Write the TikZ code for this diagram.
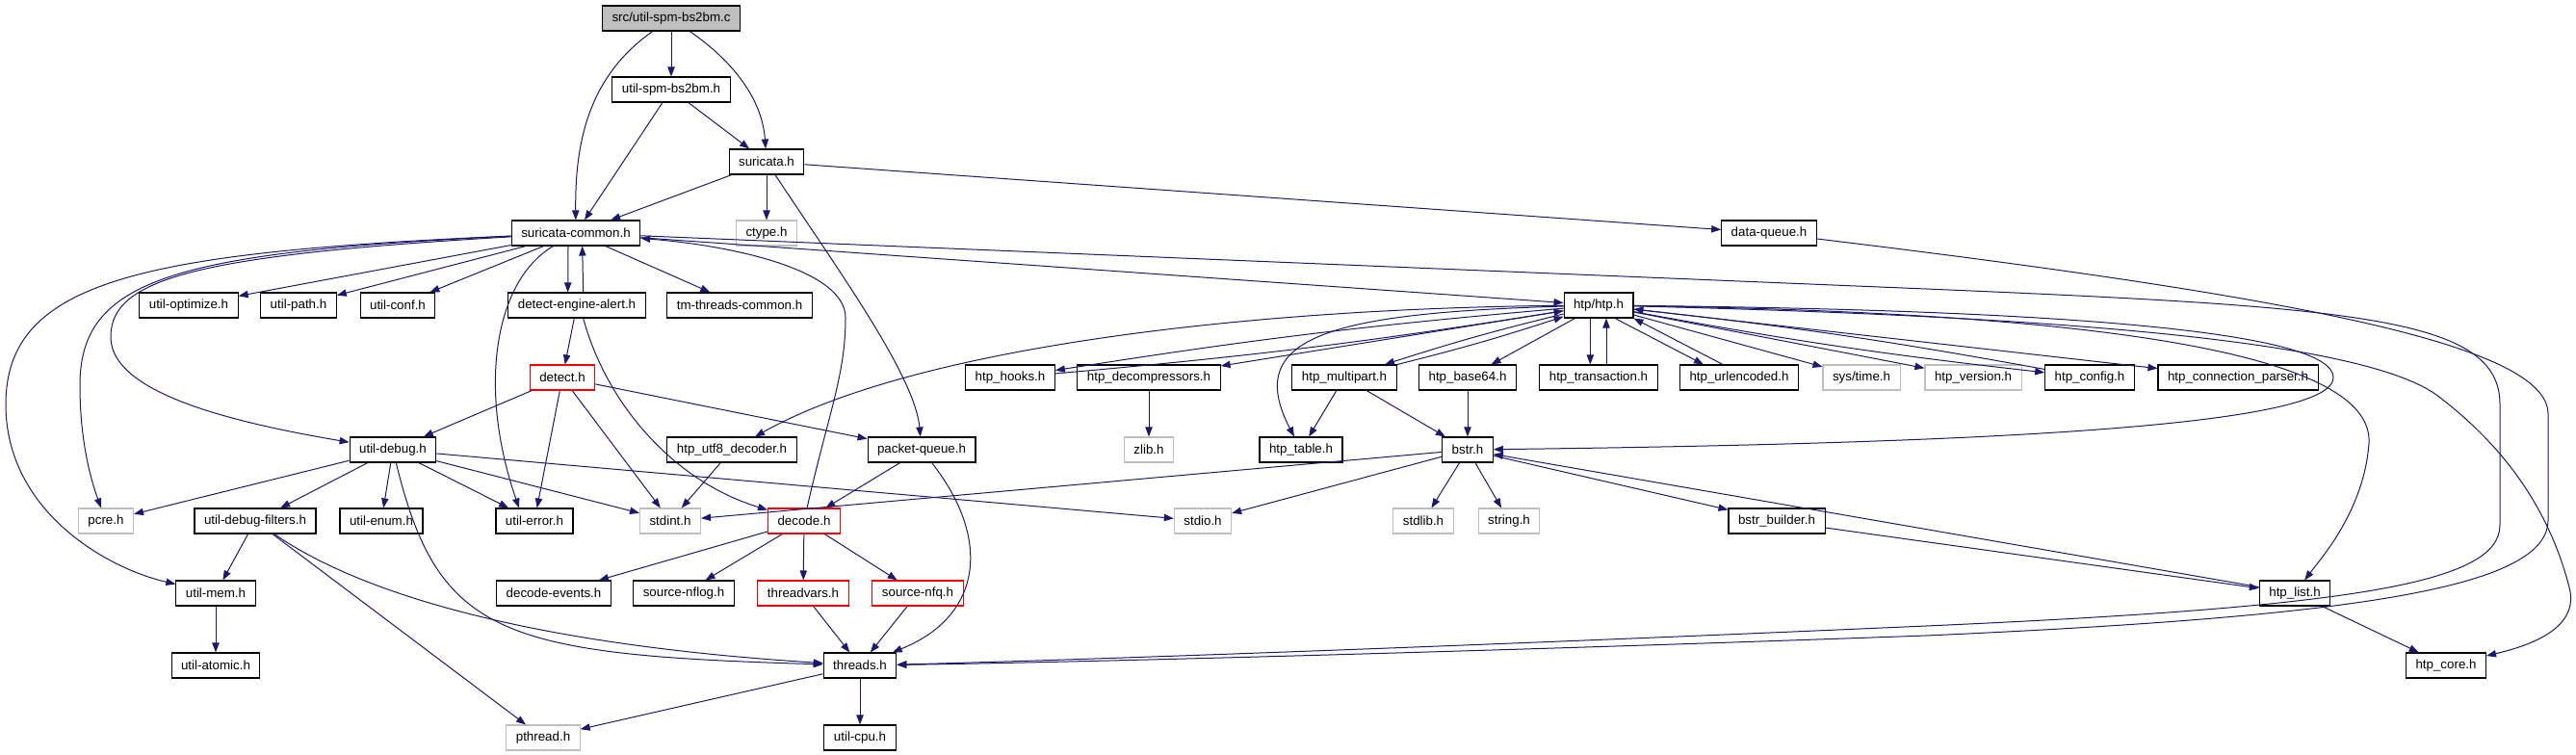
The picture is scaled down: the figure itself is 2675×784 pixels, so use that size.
\documentclass[tikz,border=0pt]{standalone}
\usepackage{fontspec}
\setsansfont{Liberation Sans}
\usepackage{tikz}
\usetikzlibrary{arrows.meta}
\definecolor{depcol}{HTML}{191970}
\definecolor{syscol}{HTML}{BFBFBF}
\tikzset{
  hdr/.style={draw=black, line width=0.8pt, fill=white, text=black,
    minimum height=19.5pt, inner xsep=7.5pt, inner ysep=0pt},
  syshdr/.style={hdr, draw=syscol},
  redhdr/.style={hdr, draw=red},
  roothdr/.style={hdr, fill=syscol},
  dep/.style={-{Triangle[length=7.5pt,width=5.5pt]}, draw=depcol, line width=0.75pt}}

\begin{document}
\begin{tikzpicture}[x=0.75pt, y=-0.75pt, font=\sffamily\fontsize{10pt}{12pt}\selectfont]
    \useasboundingbox (0,0) rectangle (2675,784);
    \node[roothdr] (root) at (697,19) {src/util-spm-bs2bm.c};
    \node[hdr] (spmh)   at (697,93)  {util-spm-bs2bm.h};
    \node[hdr] (suri)   at (796,168) {suricata.h};
    \node[hdr] (scom)   at (598,242) {suricata-common.h};
    \node[syshdr] (ctype) at (796,242) {ctype.h};
    \node[hdr] (dataq)  at (1837,242) {data-queue.h};
    \node[hdr] (uopt)   at (196,317) {util-optimize.h};
    \node[hdr] (upath)  at (310,317) {util-path.h};
    \node[hdr] (uconf)  at (413,317) {util-conf.h};
    \node[hdr] (dea)    at (599,317) {detect-engine-alert.h};
    \node[hdr] (tmtc)   at (768,317) {tm-threads-common.h};
    \node[hdr] (htp)    at (1660,317) {htp/htp.h};
    \node[redhdr] (detect) at (584,392) {detect.h};
    \node[hdr] (hooks)  at (1049,392) {htp\_hooks.h};
    \node[hdr] (decomp) at (1193,392) {htp\_decompressors.h};
    \node[hdr] (mpart)  at (1396,392) {htp\_multipart.h};
    \node[hdr] (b64)    at (1524,392) {htp\_base64.h};
    \node[hdr] (trans)  at (1660,392) {htp\_transaction.h};
    \node[hdr] (urlenc) at (1806,392) {htp\_urlencoded.h};
    \node[syshdr] (systime) at (1933,392) {sys/time.h};
    \node[syshdr] (version) at (2049,392) {htp\_version.h};
    \node[hdr] (config) at (2170,392) {htp\_config.h};
    \node[hdr] (connp)  at (2324,392) {htp\_connection\_parser.h};
    \node[hdr] (udebug) at (408,467) {util-debug.h};
    \node[hdr] (utf8)   at (760,467) {htp\_utf8\_decoder.h};
    \node[hdr] (pktq)   at (957,467) {packet-queue.h};
    \node[syshdr] (zlib) at (1193,467) {zlib.h};
    \node[hdr] (table)  at (1351,467) {htp\_table.h};
    \node[hdr] (bstr)   at (1524,467) {bstr.h};
    \node[syshdr] (pcre) at (110,541) {pcre.h};
    \node[hdr] (udf)    at (265,541) {util-debug-filters.h};
    \node[hdr] (uenum)  at (396,541) {util-enum.h};
    \node[hdr] (uerr)   at (555,541) {util-error.h};
    \node[syshdr] (stdint) at (696,541) {stdint.h};
    \node[redhdr] (decode) at (835,541) {decode.h};
    \node[syshdr] (stdio)  at (1249,541) {stdio.h};
    \node[syshdr] (stdlib) at (1478,541) {stdlib.h};
    \node[syshdr] (string) at (1567,541) {string.h};
    \node[hdr] (bbuild) at (1845,541) {bstr\_builder.h};
    \node[hdr] (umem)   at (224,616) {util-mem.h};
    \node[hdr] (devents) at (575,616) {decode-events.h};
    \node[hdr] (nflog)  at (710,616) {source-nflog.h};
    \node[redhdr] (tvars) at (834,616) {threadvars.h};
    \node[redhdr] (nfq)   at (953,616) {source-nfq.h};
    \node[hdr] (list)   at (2383,616) {htp\_list.h};
    \node[hdr] (atomic) at (224,691) {util-atomic.h};
    \node[hdr] (threads) at (893,691) {threads.h};
    \node[hdr] (core)   at (2540,691) {htp\_core.h};
    \node[syshdr] (pthread) at (564,766) {pthread.h};
    \node[hdr] (cpu)    at (893,766) {util-cpu.h};
    \foreach \a/\b in {root/spmh, spmh/scom, spmh/suri, suri/scom, suri/ctype, suri/dataq,
        scom/uopt, scom/upath, scom/uconf, scom/tmtc, scom/htp, dea/detect,
        detect/udebug, detect/uerr, detect/stdint, detect/pktq,
        udebug/pcre, udebug/udf, udebug/uenum, udebug/uerr, udebug/stdint, udebug/stdio,
        udf/umem, udf/pthread, umem/atomic, utf8/stdint, pktq/decode,
        decode/devents, decode/nflog, decode/tvars, decode/nfq,
        tvars/threads, nfq/threads, threads/cpu, threads/pthread,
        bstr/stdint, bstr/stdio, bstr/stdlib, bstr/string, bstr/bbuild,
        list/bstr, bbuild/list, list/core,
        htp/decomp, htp/b64, htp/systime, htp/version, htp/connp,
        decomp/zlib, mpart/table, mpart/bstr, b64/bstr}
      \draw[dep] (\a) -- (\b);
    \foreach \b in {hooks, mpart, config} {
      \draw[dep] (htp) to[bend right=2] (\b);
      \draw[dep] (\b) to[bend right=2] (htp);
    }
    \draw[dep] ([xshift=-6pt]scom.south) -- ([xshift=-7pt]dea.north);
    \draw[dep] ([xshift=5pt]dea.north) -- ([xshift=5pt]scom.south);
    \draw[dep] ([xshift=-6.5pt]htp.south) -- ([xshift=-6.5pt]trans.north);
    \draw[dep] ([xshift=6pt]trans.north) -- ([xshift=6pt]htp.south);
    \draw[dep] ([xshift=12.75pt]htp.south) -- ([xshift=-27.75pt]urlenc.north);
    \draw[dep] ([xshift=-12.75pt]urlenc.north) -- (htp.south east);
    \draw[dep] (root) .. controls (610,80) and (597,150) .. (scom);
    \draw[dep] (root) .. controls (770,70) and (792,110) .. (suri);
    \draw[dep] (suri) .. controls (870,280) and (950,390) .. (pktq);
    \draw[dep] (scom) .. controls (150,262) and (6,290) .. (6,420) .. controls (6,530) and (110,590) .. (umem);
    \draw[dep] (scom) .. controls (180,262) and (83,290) .. (83,400) .. controls (83,460) and (95,500) .. (pcre);
    \draw[dep] (scom) .. controls (200,265) and (115,290) .. (115,350) .. controls (115,410) and (250,440) .. (udebug);
    \draw[dep] (scom) .. controls (515,290) and (495,400) .. ([xshift=-12pt]uerr.north);
    \draw[dep] (decode) .. controls (860,430) and (878,390) .. (878,330) .. controls (878,280) and (760,255) .. (scom);
    \draw[dep] ([xshift=5pt]dea.south) .. controls (630,420) and (700,500) .. (decode);
    \draw[dep] (udebug) .. controls (455,660) and (520,680) .. (threads);
    \draw[dep] (udf) .. controls (380,620) and (560,670) .. (threads);
    \draw[dep] (pktq) .. controls (1030,560) and (1020,640) .. (threads);
    \draw[dep] (scom) -- (2000,300) .. controls (2450,319) and (2596,330) .. (2596,420) -- (2596,545)
      .. controls (2596,605) and (2450,630) .. (2000,650) .. controls (1500,672) and (1100,686) .. (threads);
    \draw[dep] (dataq) .. controls (2400,310) and (2646,360) .. (2646,430) -- (2646,540)
      .. controls (2646,610) and (2450,640) .. (2000,660) .. controls (1500,678) and (1100,688) .. (threads);
    \draw[dep] (htp) .. controls (1300,320) and (950,360) .. (utf8);
    \draw[dep] (htp) .. controls (1380,325) and (1290,350) .. (table);
    \draw[dep] (htp) .. controls (2150,322) and (2423,345) .. (2423,392) .. controls (2423,440) and (2100,460) .. (bstr);
    \draw[dep] (htp) .. controls (2200,325) and (2465,370) .. (2460,460) .. controls (2455,530) and (2410,580) .. (list);
    \draw[dep] (htp) .. controls (2200,330) and (2460,360) .. (2530,410) .. controls (2610,470) and (2650,540) .. (2668,610)
      .. controls (2680,655) and (2620,672) .. (core);
\end{tikzpicture}
\end{document}
